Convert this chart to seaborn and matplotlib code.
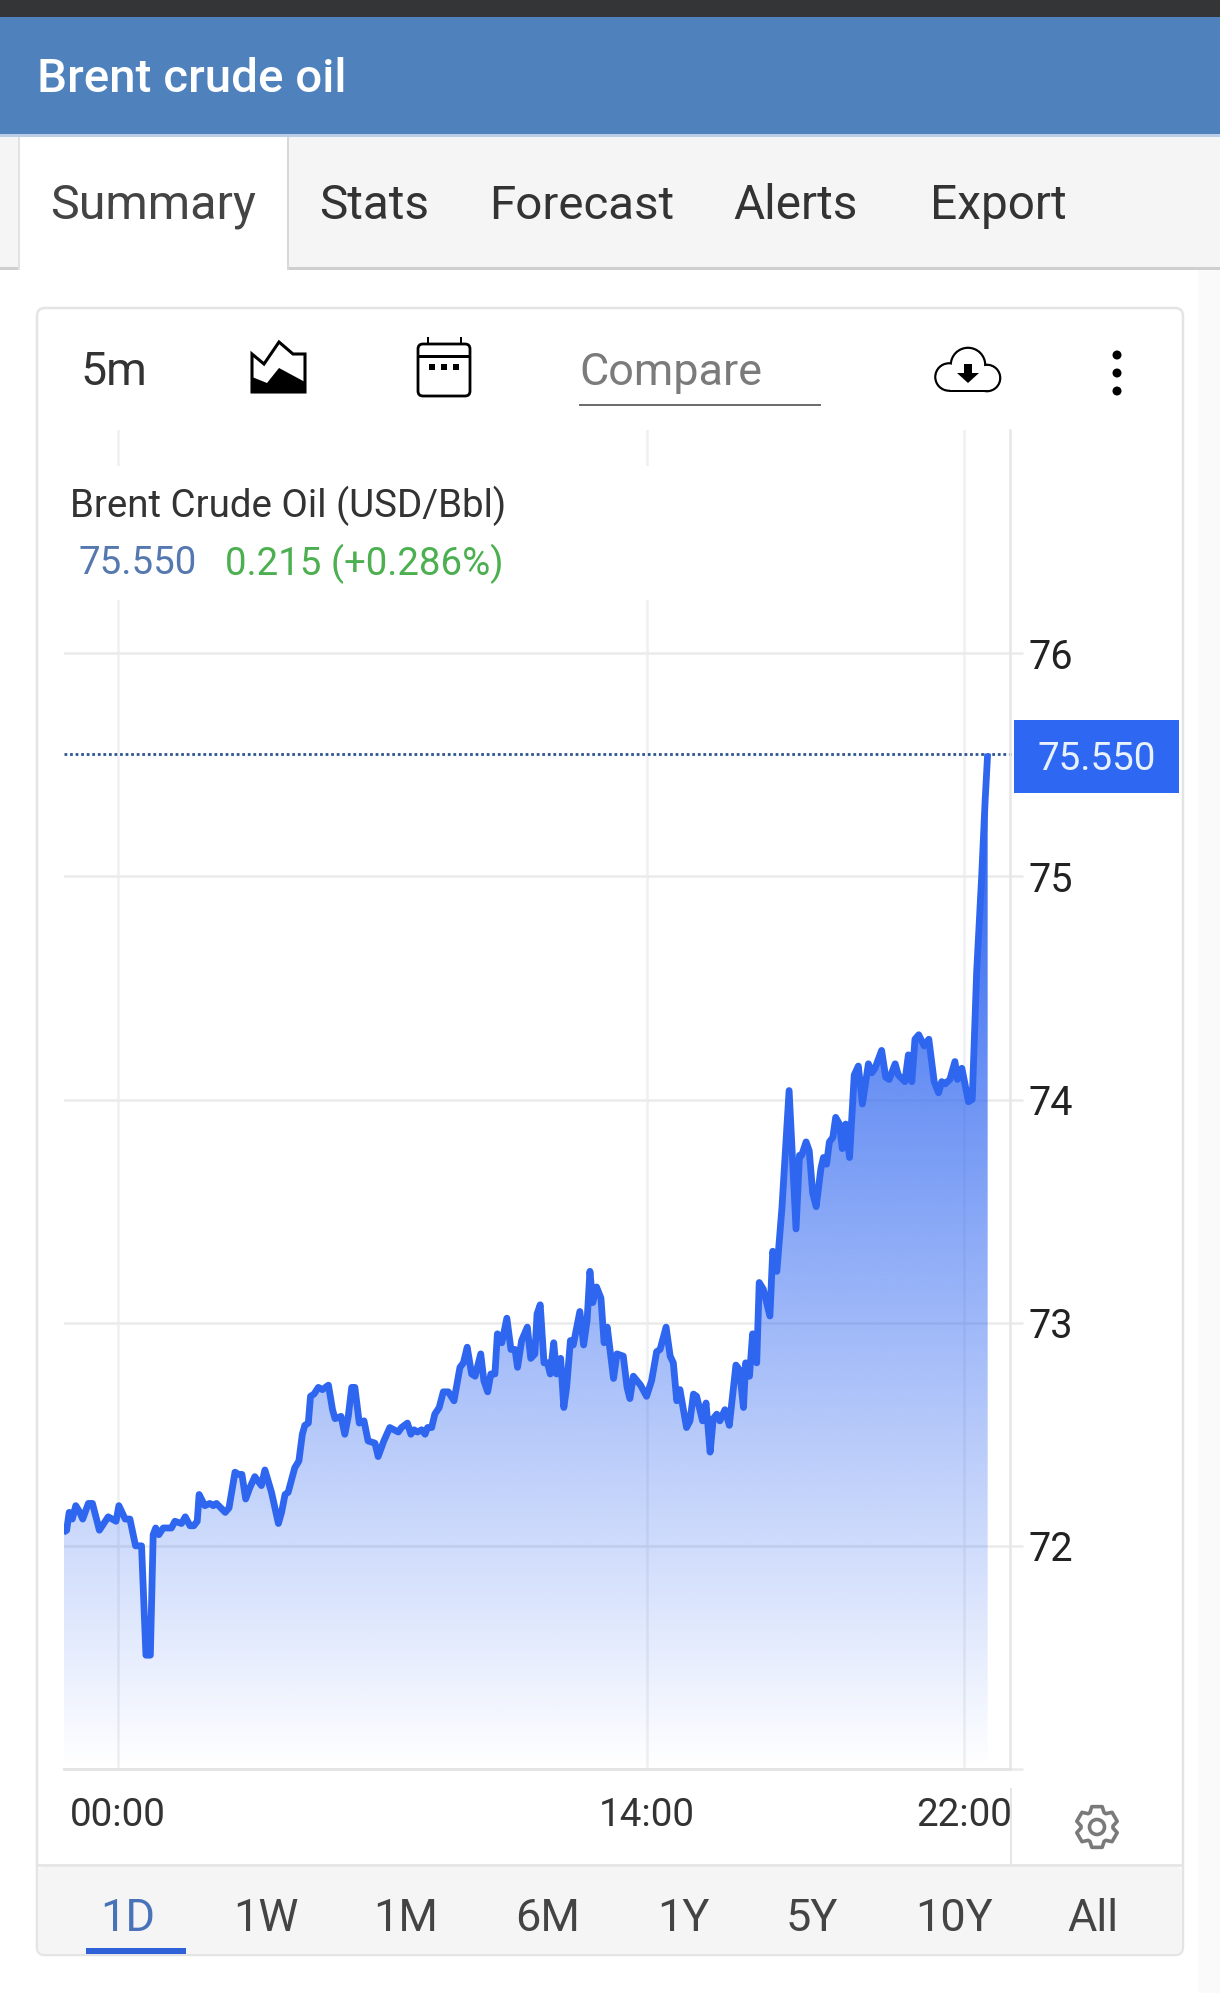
import numpy as np
import pandas as pd
import seaborn as sns
import matplotlib
matplotlib.use("Agg")
import matplotlib.pyplot as plt
from matplotlib.patches import Rectangle, FancyBboxPatch, Circle, Polygon

# Five-minute bars counted from the 00:00 session open
bar_position = [
    -17.4, -16.3, -15.5, -14.5, -13.4, -12.1, -11.2, -9.4, -8.1, -5.9, -3.1, -0.6, 0.3, 2.3, 3.8, 5.6, 7.5, 8.9, 10.3,
    11.2, 12.0, 13.0, 14.4, 17.0, 18.1, 20.2, 21.4, 22.9, 24.1, 25.2, 25.8, 27.6, 29.2, 30.3, 31.3, 34.1, 35.3,
    37.2, 38.4, 39.4, 40.6, 41.9, 43.5, 45.6, 46.7, 48.8, 51.0, 52.0, 53.1, 54.1, 56.2, 57.5, 58.6, 59.4, 60.5,
    61.2, 62.3, 63.7, 65.0, 66.9, 68.2, 69.0, 70.9, 72.1, 73.2, 74.3, 75.3, 76.7, 78.2, 79.5, 81.7, 82.7, 84.5,
    86.4, 89.1, 90.1, 92.0, 93.1, 94.1, 95.2, 96.5, 97.6, 98.4, 99.7, 100.7, 102.1,
    103.4, 105.0, 106.8, 108.7, 109.8, 111.0, 112.4, 113.5, 115.3, 116.3, 117.5, 118.5, 119.8, 120.6, 122.0,
    123.6, 124.9, 126.2, 127.0, 128.3, 130.1, 131.2, 132.5, 133.2, 134.2, 135.4, 136.5, 137.4, 138.5, 139.4,
    140.7, 141.7, 142.6, 143.8, 144.7, 146.8, 148.0, 149.1, 150.0, 150.9, 152.1, 153.5, 154.5, 155.5, 157.5,
    158.6, 160.6, 161.8, 162.7, 163.8, 166.1, 168.0, 169.6, 171.2, 172.3, 174.2, 175.5, 176.5, 177.6, 178.6,
    180.7, 181.8, 182.9, 183.9, 185.8, 186.9, 188.2, 189.2, 190.3, 191.3, 192.9, 194.3, 196.4, 197.5, 198.8,
    199.5, 200.7, 201.7, 203.0, 203.8, 205.1, 207.2,
    208.1, 209.4, 211.0, 213.3, 215.5, 216.6, 217.3, 218.7, 219.7, 220.8, 221.9, 223.4, 224.2, 225.2, 226.1,
    227.2, 228.1, 229.3, 230.2, 231.3, 232.5, 234.0, 235.3, 236.6, 238.5, 239.6, 240.6, 242.7, 244.0, 245.1,
    247.0, 248.0, 250.1, 251.2, 252.3, 253.3, 254.5, 256.2, 257.7, 259.4, 260.8, 261.8, 262.9, 264.4, 266.0,
    266.8, 268.2, 270.3, 271.5, 272.9, 274.5, 275.6, 276.4,
]
brent_price = [
    72.06, 72.07, 72.15, 72.12, 72.18, 72.15, 72.12, 72.19, 72.19, 72.07, 72.13, 72.11, 72.18, 72.12, 72.12, 72.00, 72.00, 71.51, 71.51,
    72.05, 72.08, 72.05, 72.08, 72.08, 72.11, 72.10, 72.13, 72.09, 72.09, 72.11, 72.23, 72.18, 72.19, 72.18, 72.19, 72.15, 72.17,
    72.33, 72.32, 72.32, 72.21, 72.26, 72.31, 72.27, 72.34, 72.24, 72.10, 72.15, 72.23, 72.24, 72.35, 72.38, 72.50, 72.54, 72.55,
    72.67, 72.68, 72.71, 72.70, 72.72, 72.61, 72.57, 72.58, 72.50, 72.58, 72.71, 72.71, 72.55, 72.56, 72.47, 72.46, 72.40, 72.47,
    72.53, 72.51, 72.53, 72.55, 72.50, 72.52, 72.51, 72.52, 72.50, 72.53, 72.53, 72.59, 72.62,
    72.69, 72.69, 72.65, 72.80, 72.82, 72.89, 72.77, 72.76, 72.86, 72.74, 72.69, 72.77, 72.77, 72.95, 72.91,
    73.02, 72.88, 72.88, 72.80, 72.92, 72.98, 72.84, 72.86, 73.04, 73.08, 72.82, 72.82, 72.77, 72.91, 72.77,
    72.84, 72.62, 72.71, 72.92, 72.90, 73.05, 72.90, 73.01, 73.23, 73.09, 73.16, 73.11, 72.91, 72.98, 72.75,
    72.86, 72.85, 72.71, 72.66, 72.76, 72.72, 72.67, 72.74, 72.87, 72.88, 72.98, 72.85, 72.82, 72.65, 72.70,
    72.53, 72.56, 72.68, 72.67, 72.56, 72.64, 72.42, 72.57, 72.59, 72.56, 72.61, 72.54, 72.81, 72.79, 72.62,
    72.82, 72.76, 72.95, 72.82, 73.18, 73.15, 73.03,
    73.32, 73.23, 73.51, 74.04, 73.42, 73.75, 73.75, 73.81, 73.77, 73.58, 73.52, 73.69, 73.74, 73.71, 73.81,
    73.83, 73.92, 73.89, 73.78, 73.89, 73.74, 74.11, 74.15, 73.98, 74.16, 74.12, 74.14, 74.22, 74.10, 74.09,
    74.16, 74.11, 74.08, 74.20, 74.08, 74.27, 74.29, 74.24, 74.27, 74.08, 74.03, 74.08, 74.07, 74.09, 74.17,
    74.09, 74.14, 73.99, 74.00, 74.57, 75.00, 75.34, 75.55,
]
last_price = 75.55
price_ticks = [71, 72, 73, 74, 75, 76]
price_tick_labels = ["", "72", "73", "74", "75", "76"]
time_ticks = [0, 168, 269]
time_tick_labels = ["00:00", "14:00", "22:00"]
tab_names = ["Summary", "Stats", "Forecast", "Alerts", "Export"]
range_names = ["1D", "1W", "1M", "6M", "1Y", "5Y", "10Y", "All"]

W, H = 1220, 1993
LINE_BLUE = "#2f66f0"
GRID = "#ebebeb"
TEXT = "#333333"

sns.set_theme(style="white")
plt.rcParams["font.family"] = ["Roboto", "DejaVu Sans"]

fig = plt.figure(figsize=(W / 100, H / 100), dpi=100, facecolor="white")

# Price chart
ax = fig.add_axes([63.5 / W, 1 - 1769 / H, (1010 - 63.5) / W, (1769 - 430) / H], zorder=1)
ax.patch.set_alpha(0)
frame = pd.DataFrame({"bar": bar_position, "price": brent_price})

ax.set_xticks(time_ticks, time_tick_labels)
ax.set_yticks(price_ticks, price_tick_labels)
ax.yaxis.tick_right()
ax.grid(True, axis="y", color=GRID, lw=1.8)
ax.grid(True, axis="x", color="#eef0f3", lw=1.8)
ax.set_axisbelow(True)

x_range = (-17.3, 283.5)
y_range = (71, 77)

# Area under the line, fading towards the baseline
ramp = np.linspace(y_range[1], y_range[0], 500)
shade = np.zeros((500, 1, 4))
shade[..., :3] = matplotlib.colors.to_rgb(LINE_BLUE)
shade[..., 3] = np.clip((ramp - 71) * 0.233, 0, 1)[:, None]
outline = ax.fill_between(bar_position, brent_price, y_range[0], color="none", lw=0)
image = ax.imshow(shade, extent=(*x_range, *y_range), aspect="auto", zorder=1.5, interpolation="bilinear")
image.set_clip_path(outline.get_paths()[0], ax.transData)

sns.lineplot(data=frame, x="bar", y="price", estimator=None, sort=False, color=LINE_BLUE,
             ax=ax, zorder=3, legend=False)
price_line = ax.lines[-1]
price_line.set_linewidth(4.9)
price_line.set_solid_joinstyle("round")
price_line.set_solid_capstyle("butt")

ax.plot([0, 1.01], [last_price, last_price], transform=ax.get_yaxis_transform(), color="#2f5590", lw=2.0,
        ls=(0, (1, 1)), clip_on=False, zorder=2.5)

ax.set_xlim(*x_range)
ax.set_ylim(*y_range)
ax.set_xlabel("")
ax.set_ylabel("")
for side in ("top", "left"):
    ax.spines[side].set_visible(False)
ax.spines["bottom"].set_color("#e4e4e4")
ax.spines["bottom"].set_linewidth(2)
ax.spines["right"].set_color("#e6e6e6")
ax.spines["right"].set_linewidth(1.8)
ax.tick_params(axis="y", which="major", right=True, length=9.4, width=1.8, color=GRID, labelsize=28.5,
               labelcolor="#222222", pad=4.2)
ax.tick_params(axis="x", bottom=False, labelsize=27.8, labelcolor="#333333", pad=13.8)

# Application chrome, laid out in screen pixels
ui = fig.add_axes([0, 0, 1, 1], zorder=2)
ui.set_xlim(0, W)
ui.set_ylim(H, 0)
ui.axis("off")
ui.patch.set_alpha(0)


def box(x0, y0, x1, y1, color, z=1):
    ui.add_patch(Rectangle((x0, y0), x1 - x0, y1 - y0, fc=color, ec="none", zorder=z))


def label(x, y, s, size, color=TEXT, ha="center", **kw):
    ui.text(x, y, s, fontsize=size, color=color, ha=ha, va="center", zorder=6, **kw)


box(0, 0, W, 17, "#333537")
box(0, 17, W, 134, "#4f81bd")
box(0, 134, W, 137, "#b9cde6")
box(0, 137, W, 267, "#f5f5f5")
box(0, 267, W, 269.5, "#cfcfcf")
box(20, 137, 287, 270, "white", 2)
box(287, 137, 289, 270, "#d8d8d8", 2)
box(18, 137, 20, 270, "#e2e2e2", 2)
box(1198, 137, W, H, "#fafafa", 0.5)
label(37, 79, "Brent crude oil", 34.2, "white", ha="left", fontweight="medium")

tab_centres = [153.5, 374, 581.5, 795.5, 998]
tab_sizes = [34.8, 34.4, 34.2, 34.4, 34.4]
for centre, name, size in zip(tab_centres, tab_names, tab_sizes):
    label(centre, 206, name, size, "#444444" if name == "Summary" else TEXT)

# Card around the chart
ui.add_patch(FancyBboxPatch((37, 308), 1146, 1647, boxstyle="round,pad=0,rounding_size=8", fc="none", ec="#e4e4e4",
                            lw=1.8, zorder=1))

# Toolbar
label(80, 372, "5m", 33.5, ha="left")
ui.add_patch(Polygon([(252, 392), (252, 354), (264, 364), (279, 342), (293, 354), (305, 354), (305, 392)], closed=True,
                     fc="white", ec="black", lw=2.2, zorder=3, joinstyle="miter"))
ui.add_patch(Polygon([(252, 392), (252, 377), (267, 383), (279, 368), (305, 382), (305, 392)],
                     closed=True, fc="black", ec="none", zorder=4))

ui.add_patch(FancyBboxPatch((418, 344), 52, 52, boxstyle="round,pad=0,rounding_size=5", fc="white", ec="black", lw=2,
                            zorder=3))
box(418, 355, 470, 357.5, "black", 4)
for pin in (428, 461):
    box(pin - 1.2, 337, pin + 1.2, 344, "black", 4)
for dot in (432, 444, 456):
    box(dot - 3, 364, dot + 3, 370, "black", 4)

label(579, 373, "Compare", 32.4, "#7b7b7b", ha="left")
box(579, 403.5, 821, 406, "#6e6e6e", 4)

# Download cloud: overlapping discs with their inner parts painted out
lobes = [(968, 365, 17), (949, 377, 13.5), (987, 378, 13)]
for cx, cy, r in lobes:
    ui.add_patch(Circle((cx, cy), r, fc="white", ec="black", lw=1.9, zorder=3))
for cx, cy, r in lobes:
    ui.add_patch(Circle((cx, cy), r - 0.9, fc="white", ec="none", zorder=4))
box(950, 372, 986, 389.5, "white", 4)
box(949, 389.6, 987, 391.8, "black", 4)
ui.add_patch(Polygon([(964, 364), (972, 364), (972, 373), (979, 373), (968, 383), (957, 373), (964, 373)],
                     closed=True, fc="black", ec="none", zorder=5))

for dot_y in (355, 373, 391):
    ui.add_patch(Circle((1117, dot_y), 4.5, fc="black", ec="none", zorder=4))

# Chart caption, on a white backing that interrupts the gridlines
box(60, 466, 662, 600, "white", 2)
label(70, 505.5, "Brent Crude Oil (USD/Bbl)", 27.7, ha="left")
label(78, 563.5, "75.550", 27.7, "#5578b0", ha="left")
label(225, 563.5, "0.215 (+0.286%)", 27.6, "#4caf50", ha="left")

# Last-price tag
box(1014, 720, 1179, 792.5, "#2e68f2", 4)
label(1097, 759.5, "75.550", 27.8, "#e8f2ff")

# Settings cog
cog = []
for a in np.linspace(-np.pi / 2, 1.5 * np.pi, 6, endpoint=False):
    for da, r in [(-0.46, 16), (-0.25, 21), (0.25, 21), (0.46, 16)]:
        cog.append((1097 + r * np.cos(a + da), 1827 + r * np.sin(a + da)))
ui.add_patch(Polygon(cog, closed=True, fc="white", ec="#7a7a7a", lw=2.6, zorder=4, joinstyle="round"))
ui.add_patch(Circle((1097, 1827), 7.5, fc="white", ec="#7a7a7a", lw=2.6, zorder=5))

# Range selector
box(1009.5, 1788, 1011.5, 1865, "#e6e6e6", 2)
box(38, 1864, 1182, 1867, "#e6e6e6", 3)
ui.add_patch(FancyBboxPatch((38, 1867), 1144, 87, boxstyle="round,pad=0,rounding_size=6", fc="#f5f5f5", ec="none",
                            zorder=2))
range_centres = [128, 266, 406, 548, 683, 812, 954, 1093]
for centre, name in zip(range_centres, range_names):
    label(centre, 1919, name, 32.5, "#4a72b8" if name == "1D" else "#444444")
box(86, 1948, 186, 1954, "#2f62d8", 4)

fig.savefig("out.png", dpi=100, facecolor="white")
